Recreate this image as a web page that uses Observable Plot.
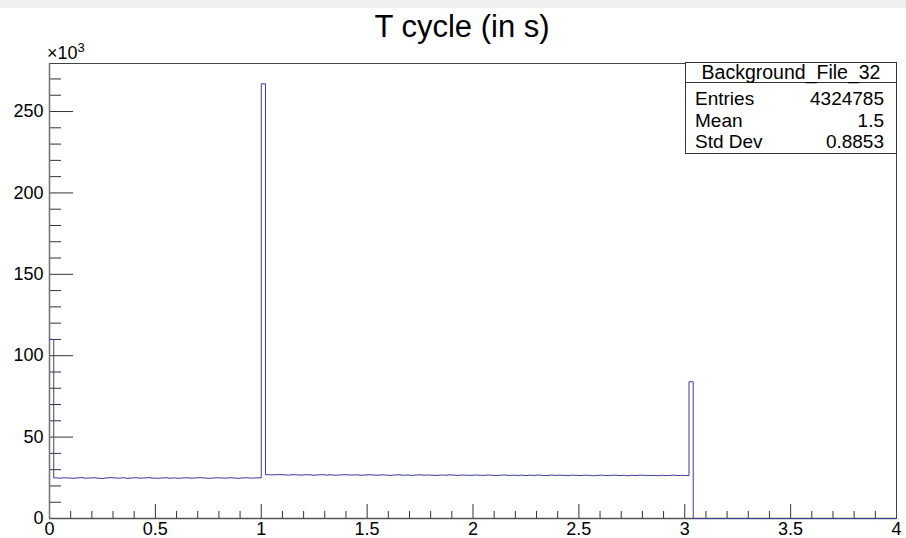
<!DOCTYPE html>
<html>
<head>
<meta charset="utf-8">
<script src="https://cdn.jsdelivr.net/npm/d3@7"></script>
<script src="https://cdn.jsdelivr.net/npm/@observablehq/plot@0.6"></script>
<style>
  html, body { margin: 0; padding: 0; background: #efefef; }
  #wrap { position: relative; margin-top: 8px; width: 906px; height: 530px; background: #fff; overflow: hidden; font-family: "Liberation Sans", Arial, sans-serif; color: #000; }
  #title { position: absolute; left: 0; width: 924px; top: 1px; text-align: center; font-size: 31px; line-height: 36px; }
  #expo { position: absolute; left: 47px; top: 35px; font-size: 18px; line-height: 20px; }
  #expo sup { font-size: 13px; vertical-align: 7px; line-height: 0; }
  #stats { position: absolute; left: 685px; top: 54px; width: 212px; height: 92px; box-sizing: border-box; border: 1px solid #333; background: #fff; font-size: 19px; }
  #stats .hd { height: 19px; line-height: 18px; text-align: center; border-bottom: 1px solid #333; font-size: 19.5px; }
  #stats .rows { padding-top: 5px; }
  #stats .row { display: flex; justify-content: space-between; height: 21.5px; line-height: 21px; padding: 0 12px 0 9px; }
  #chart { position: absolute; left: 0; top: 0; }
  #chart svg text { font-size: 18px; }
</style>
</head>
<body>
<div id="wrap">
  <div id="chart"></div>
  <div id="title"></div>
  <div id="expo">×10<sup>3</sup></div>
  <div id="stats"></div>
</div>
<script>
// ---- data (counts per bin, in thousands) ----
const histName = "Background_File_32";
const titleText = "T cycle (in s)";
const statLabels = ["Entries", "Mean", "Std Dev"];
const statValues = ["4324785", "1.5", "0.8853"];
const xMin = 0, xMax = 4, binWidth = 0.02;

const firstBin = [110];
const flatBefore = [
  24.9, 24.8, 25.0, 24.9, 24.7, 24.9, 25.1, 24.8, 24.9, 25.0,
  24.8, 24.6, 24.9, 25.1, 24.9, 24.8, 25.0, 24.7, 24.9, 25.0,
  24.8, 24.9, 25.1, 24.8, 24.7, 24.9, 25.0, 24.8, 24.9, 24.7,
  24.9, 25.0, 24.8, 24.9, 25.1, 24.9, 24.7, 24.8, 25.0, 24.9,
  24.8, 25.0, 24.9, 24.7, 24.9, 25.0, 24.8, 24.9, 25.0
];
const spikeAt1 = [267];
const flatAfter = [
  26.9, 26.8, 26.9, 27.0, 26.8, 26.7, 26.9, 26.8, 26.7, 26.9,
  26.8, 26.6, 26.8, 26.9, 26.7, 26.8, 26.6, 26.7, 26.9, 26.8,
  26.7, 26.8, 26.6, 26.7, 26.9, 26.7, 26.6, 26.8, 26.7, 26.5,
  26.7, 26.8, 26.6, 26.7, 26.5, 26.7, 26.8, 26.6, 26.7, 26.6,
  26.5, 26.7, 26.6, 26.8, 26.6, 26.5, 26.7, 26.6, 26.5, 26.7,
  26.6, 26.5, 26.7, 26.6, 26.4, 26.6, 26.7, 26.5, 26.6, 26.5,
  26.6, 26.4, 26.6, 26.5, 26.7, 26.5, 26.4, 26.6, 26.5, 26.6,
  26.5, 26.4, 26.6, 26.5, 26.4, 26.6, 26.5, 26.3, 26.5, 26.6,
  26.4, 26.5, 26.6, 26.4, 26.5, 26.3, 26.5, 26.4, 26.6, 26.5,
  26.4, 26.5, 26.3, 26.5, 26.4, 26.5, 26.6, 26.4, 26.5, 26.4
];
const spikeAt3 = [84];
const emptyTail = [
  0, 0, 0, 0, 0, 0, 0, 0, 0, 0,
  0, 0, 0, 0, 0, 0, 0, 0, 0, 0,
  0, 0, 0, 0, 0, 0, 0, 0, 0, 0,
  0, 0, 0, 0, 0, 0, 0, 0, 0, 0,
  0, 0, 0, 0, 0, 0, 0, 0
];

const xMajor = [0, 0.5, 1, 1.5, 2, 2.5, 3, 3.5, 4];
const yMajor = [0, 50, 100, 150, 200, 250];
const yMax = 279.5;

// ---- build table ----
const counts = [...firstBin, ...flatBefore, ...spikeAt1, ...flatAfter, ...spikeAt3, ...emptyTail];
const pts = counts.map((v, i) => ({x: xMin + i * binWidth, y: v}));
pts.push({x: xMax, y: counts[counts.length - 1]});

const xMinor = d3.range(0, 40.5).map(d => d / 10).filter(d => !xMajor.some(m => Math.abs(m - d) < 1e-9));
const yMinor = d3.range(0, 280, 10).filter(d => !yMajor.includes(d));

const W = 906, H = 530;
const mT = 55, mB = 20, mL = 49, mR = 10;
const innerW = W - mL - mR, innerH = H - mT - mB;

const chart = Plot.plot({
  width: W, height: H,
  marginTop: mT, marginBottom: mB, marginLeft: mL, marginRight: mR,
  style: {fontFamily: "Liberation Sans, Arial, sans-serif", fontSize: "18px", color: "#000", background: "transparent"},
  x: {domain: [xMin, xMax]},
  y: {domain: [0, yMax]},
  marks: [
    Plot.tickX(xMinor, {x: d => d, insetTop: innerH - 7, stroke: "#333", strokeWidth: 1}),
    Plot.tickX(xMajor, {x: d => d, insetTop: innerH - 14, stroke: "#333", strokeWidth: 1}),
    Plot.tickY(yMinor, {y: d => d, insetRight: innerW - 12, stroke: "#333", strokeWidth: 1}),
    Plot.tickY(yMajor, {y: d => d, insetRight: innerW - 24, stroke: "#333", strokeWidth: 1}),
    Plot.axisX({ticks: xMajor, tickSize: 0, tickPadding: 4, tickFormat: d => String(d), label: null, fontSize: 18}),
    Plot.axisY({ticks: yMajor, tickSize: 0, tickPadding: 6, tickFormat: d => String(d), label: null, fontSize: 18}),
    Plot.frame({stroke: "#444", strokeWidth: 1}),
    Plot.ruleX([xMin], {stroke: "#777", strokeWidth: 1.6}),
    Plot.ruleY([0], {stroke: "#555", strokeWidth: 1.6}),
    Plot.line(pts, {x: "x", y: "y", curve: "step-after", stroke: "#3c3c9c", strokeWidth: 1})
  ]
});
document.getElementById("chart").appendChild(chart);

document.getElementById("title").textContent = titleText;
const stats = document.getElementById("stats");
const hd = document.createElement("div");
hd.className = "hd";
hd.textContent = histName;
stats.appendChild(hd);
const rows = document.createElement("div");
rows.className = "rows";
statLabels.forEach((lab, i) => {
  const r = document.createElement("div");
  r.className = "row";
  const a = document.createElement("span"); a.textContent = lab;
  const b = document.createElement("span"); b.textContent = statValues[i];
  r.appendChild(a); r.appendChild(b);
  rows.appendChild(r);
});
stats.appendChild(rows);
</script>
</body>
</html>
